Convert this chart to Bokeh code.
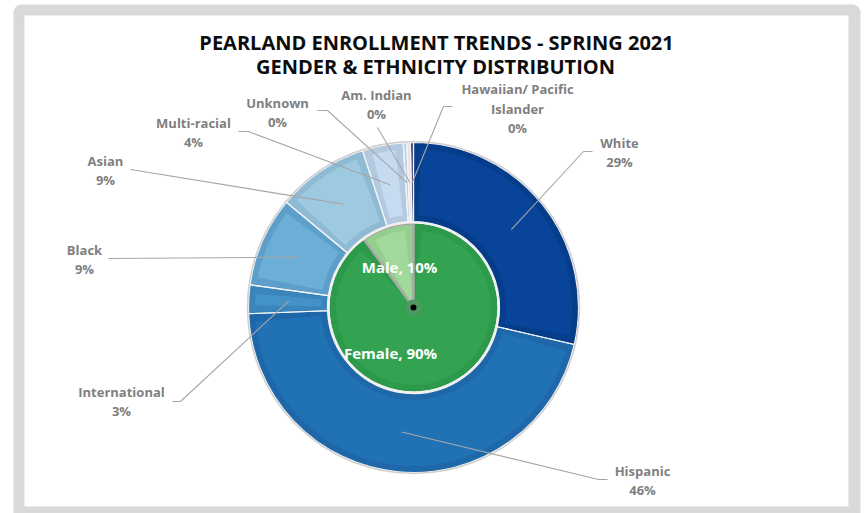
import numpy as np
from bokeh.plotting import figure
from bokeh.models import Range1d
from bokeh.core.properties import value
from bokeh.embed import file_html
from bokeh.resources import INLINE

# ---------------- data ----------------
title_lines = ["PEARLAND ENROLLMENT TRENDS - SPRING 2021", "GENDER & ETHNICITY DISTRIBUTION"]
ethnicities = ["White", "Hispanic", "International", "Black", "Asian",
               "Multi-racial", "Unknown", "Am. Indian", "Hawaiian/ Pacific\nIslander"]
eth_share = [28.6, 45.8, 2.8, 8.8, 9.0, 4.0, 0.35, 0.35, 0.3]
genders = ["Female", "Male"]
gender_share = [90, 10]

# ---------------- styles / layout ----------------
eth_fill = ["#08459a", "#2171b5", "#4393c8", "#6baed6", "#9ecae1",
            "#c6dbef", "#d3dfed", "#eef2f8", "#4b3d72"]
eth_band = ["#063d8b", "#1e67a9", "#3a86bc", "#5d9fca", "#8ebbd3",
            "#b3c9df", "#c3d1e3", "#dfe6ef", "#3f335f"]
gen_fill = ["#33a352", "#a1d99b"]
gen_band = ["#2d994b", "#95cf8e"]

W, H = 865, 513


def sy(y):             # screen y -> data y
    return H - y


CX, CY = 413, sy(307)
R_OUT, R_RING_IN, R_PIE = 165, 86, 84
BEVEL = 6.5

# label block centres (screen px) and leader paths near the labels
lab_centre = [(619, 152), (642, 480), (121, 401), (84, 259), (105, 170),
              (193, 132), (277, 112), (376, 104), (517, 108)]
leader_tail = [[(583, 151), (592, 151)], [(598, 479), (607, 479)],
               [(180, 401), (172, 401)], [(108, 258)], [(130, 169)],
               [(248, 131), (238, 131)], [(327, 110), (317, 110)],
               [(377, 127)], [(443, 106), (452, 106)]]
LINE_GAP = 19.5

p = figure(width=W, height=H, output_backend="svg", toolbar_location=None,
           x_range=Range1d(0, W), y_range=Range1d(0, H),
           min_border=0, background_fill_color="white", border_fill_color="white")
p.axis.visible = False
p.grid.visible = False
p.outline_line_color = None

# frame (grey border with rounded top corners)
p.quad(left=13, right=860, bottom=0, top=sy(12), fill_color="#d9d9d9", line_color=None)
p.quad(left=21, right=852, bottom=0, top=sy(4), fill_color="#d9d9d9", line_color=None)
p.circle(x=[21, 852], y=[sy(12), sy(12)], radius=8, fill_color="#d9d9d9", line_color=None)
p.quad(left=24, right=848, bottom=sy(506), top=sy(15), fill_color="white", line_color=None)

# ---------------- outer ring (ethnicity) ----------------
frac = np.array(eth_share) / sum(eth_share)
cum = np.concatenate([[0], np.cumsum(frac)]) * 2 * np.pi
th0, th1 = cum[:-1], cum[1:]            # clockwise from 12 o'clock
start = np.pi / 2 - th1
end = np.pi / 2 - th0

p.annular_wedge(x=CX, y=CY, inner_radius=R_RING_IN, outer_radius=R_OUT,
                start_angle=start, end_angle=end, fill_color=eth_band, line_color=None)
big = frac > 0.015
rmid = (R_RING_IN + R_OUT) / 2
da = BEVEL / rmid
p.annular_wedge(x=CX, y=CY, inner_radius=R_RING_IN + BEVEL, outer_radius=R_OUT - BEVEL,
                start_angle=(start + da)[big], end_angle=(end - da)[big],
                fill_color=list(np.array(eth_fill)[big]), line_color=None)
p.annular_wedge(x=CX, y=CY, inner_radius=R_RING_IN, outer_radius=R_OUT,
                start_angle=start, end_angle=end, fill_alpha=0,
                line_color="#f3f3f3", line_width=1.2)
p.circle(x=CX, y=CY, radius=R_OUT + 1, fill_alpha=0, line_color="#cfcfcf", line_width=1.5)

# ---------------- inner pie (gender) ----------------
gfrac = np.array(gender_share) / sum(gender_share)
gcum = np.concatenate([[0], np.cumsum(gfrac)]) * 2 * np.pi
gstart = np.pi / 2 - gcum[1:]
gend = np.pi / 2 - gcum[:-1]
p.wedge(x=CX, y=CY, radius=R_PIE, start_angle=gstart, end_angle=gend,
        fill_color=gen_band, line_color=None)
gda = BEVEL / 60
p.wedge(x=CX, y=CY, radius=R_PIE - BEVEL, start_angle=gstart + gda, end_angle=gend - gda,
        fill_color=gen_fill, line_color=None)
p.wedge(x=CX, y=CY, radius=R_PIE, start_angle=gstart[1:], end_angle=gend[1:],
        fill_alpha=0, line_color="#a9a9a9", line_width=2.5)
p.circle(x=CX, y=CY, radius=R_PIE + 1, fill_alpha=0, line_color="#f0f0f0", line_width=2)
p.circle(x=CX, y=CY, radius=8, fill_color="#4f9862", line_color=None)
p.circle(x=CX, y=CY, radius=3, fill_color="black", line_color=None)

# gender labels
g_pos = [(390, 352), (399, 266)]
p.text(x=[g[0] for g in g_pos], y=[sy(g[1]) for g in g_pos],
       text=[f"{g}, {s}%" for g, s in zip(genders, gender_share)],
       text_font=value("Open Sans"), text_font_style="bold", text_font_size="15px",
       text_color="white", text_align="center", text_baseline="middle")

# ---------------- leader lines ----------------
mid = (th0 + th1) / 2
R_LEAD = 125
xs, ys = [], []
for m, tail in zip(mid, leader_tail):
    xs.append([CX + R_LEAD * np.sin(m)] + [t[0] for t in tail])
    ys.append([CY + R_LEAD * np.cos(m)] + [sy(t[1]) for t in tail])
p.multi_line(xs=xs, ys=ys, line_color="#a6a6a6", line_width=1.1)

# ---------------- ethnicity labels ----------------
tx, ty, tt = [], [], []
for name, share, (lx, lyc) in zip(ethnicities, eth_share, lab_centre):
    lines = name.split("\n") + [f"{round(share)}%"]
    n = len(lines)
    for i, ln in enumerate(lines):
        tx.append(lx)
        ty.append(sy(lyc + (i - (n - 1) / 2) * LINE_GAP))
        tt.append(ln)
p.text(x=tx, y=ty, text=tt, text_font=value("Open Sans"), text_font_style="bold",
       text_font_size="13px", text_color="#7f7f7f", text_align="center",
       text_baseline="middle")

# ---------------- title ----------------
p.text(x=[436, 435], y=[sy(42), sy(66)], text=title_lines,
       text_font=value("Open Sans"), text_font_style="bold", text_font_size="20px",
       text_color="#0d0d0d", text_align="center", text_baseline="middle")

open("out.html", "w").write(file_html(p, INLINE))
